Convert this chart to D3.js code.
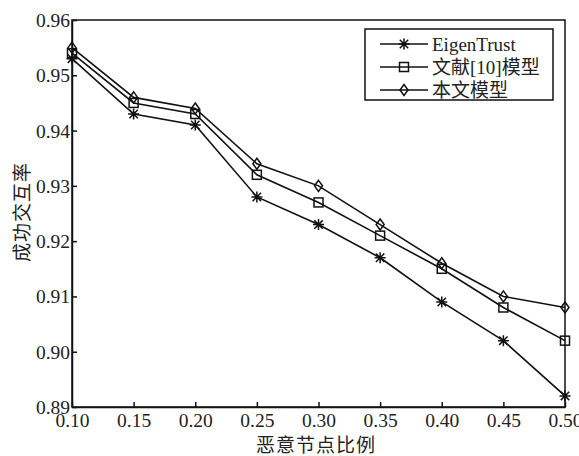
<!DOCTYPE html>
<html>
<head>
<meta charset="utf-8">
<script src="https://cdn.jsdelivr.net/npm/d3@7"></script>
<style>
  body { margin: 0; background: #fff; }
  text { font-family: "Liberation Serif", "Noto Sans CJK SC", serif; fill: #222; }
</style>
</head>
<body>
<div id="chart"></div>
<script>
var xValues = [0.10, 0.15, 0.20, 0.25, 0.30, 0.35, 0.40, 0.45, 0.50];
var eigenTrust = [0.953, 0.943, 0.941, 0.928, 0.923, 0.917, 0.909, 0.902, 0.892];
var ref10Model = [0.954, 0.945, 0.943, 0.932, 0.927, 0.921, 0.915, 0.908, 0.902];
var ourModel = [0.955, 0.946, 0.944, 0.934, 0.930, 0.923, 0.916, 0.910, 0.908];
var seriesNames = ['EigenTrust', '文献[10]模型', '本文模型'];
var xTicks = [0.10, 0.15, 0.20, 0.25, 0.30, 0.35, 0.40, 0.45, 0.50];
var yTicks = [0.89, 0.90, 0.91, 0.92, 0.93, 0.94, 0.95, 0.96];

var width = 579, height = 456,
    pLeft = 72, pTop = 20, pRight = 565, pBottom = 407;

var svg = d3.select('#chart').append('svg')
    .attr('width', width)
    .attr('height', height);

var xScale = d3.scaleLinear().domain([0.10, 0.50]).range([pLeft, pRight]),
    yScale = d3.scaleLinear().domain([0.89, 0.96]).range([pBottom, pTop]);

var xAxis = d3.axisBottom(xScale)
        .tickValues(xTicks)
        .tickFormat(d3.format('.2f'))
        .tickSizeInner(-5)
        .tickSizeOuter(0),
    yAxis = d3.axisLeft(yScale)
        .tickValues(yTicks)
        .tickFormat(d3.format('.2f'))
        .tickSizeInner(-5)
        .tickSizeOuter(0);

// frame
svg.append('rect')
    .attr('x', pLeft).attr('y', pTop)
    .attr('width', pRight - pLeft).attr('height', pBottom - pTop)
    .attr('fill', 'none').attr('stroke', '#111').attr('stroke-width', 1.5);

var xx = svg.append('g')
    .attr('transform', 'translate(0,' + pBottom + ')')
    .call(xAxis);
var yy = svg.append('g')
    .attr('transform', 'translate(' + pLeft + ',0)')
    .call(yAxis);

[xx, yy].forEach(function(ax) {
    ax.select('.domain').attr('stroke', '#111').attr('stroke-width', 1.5);
    ax.selectAll('.tick line').attr('stroke', '#111').attr('stroke-width', 1.5);
    ax.selectAll('.tick text')
        .style('font-size', '19.5px')
        .style('font-family', '"Liberation Serif", serif')
        .attr('fill', '#333');
});
xx.selectAll('.tick text').attr('y', 6).attr('dy', '0.71em');
yy.selectAll('.tick text').attr('x', -2).attr('dy', '0.33em');

// axis titles
svg.append('text')
    .attr('x', 316)
    .attr('y', 443)
    .attr('text-anchor', 'middle')
    .attr('dominant-baseline', 'central')
    .style('font-size', '19px')
    .style('letter-spacing', '1px')
    .style('font-family', '"Noto Sans CJK SC", sans-serif')
    .text('恶意节点比例');

svg.append('text')
    .attr('transform', 'translate(20,212) rotate(-90)')
    .attr('text-anchor', 'middle')
    .attr('dominant-baseline', 'central')
    .style('font-size', '19px')
    .style('letter-spacing', '1px')
    .style('font-family', '"Noto Sans CJK SC", sans-serif')
    .text('成功交互率');

// markers
function drawMarker(g, type) {
    if (type === 0) {
        g.append('path')
            .attr('d', 'M-5.5,0H5.5M0,-5.5V5.5M-4.2,-4.2L4.2,4.2M-4.2,4.2L4.2,-4.2')
            .attr('stroke', '#111').attr('stroke-width', 1.5).attr('fill', 'none');
    } else if (type === 1) {
        g.append('rect')
            .attr('x', -4.5).attr('y', -4.5).attr('width', 9).attr('height', 9)
            .attr('stroke', '#111').attr('stroke-width', 1.5).attr('fill', 'none');
    } else {
        g.append('path')
            .attr('d', 'M0,-5.5L4,0L0,5.5L-4,0Z')
            .attr('stroke', '#111').attr('stroke-width', 1.5).attr('fill', 'none');
    }
}

var series = [eigenTrust, ref10Model, ourModel];
var line = d3.line()
    .x(function(d, i) { return xScale(xValues[i]); })
    .y(function(d) { return yScale(d); });

series.forEach(function(values, s) {
    svg.append('path')
        .datum(values)
        .attr('d', line)
        .attr('fill', 'none')
        .attr('stroke', '#111')
        .attr('stroke-width', 1.6);
    values.forEach(function(v, i) {
        var g = svg.append('g')
            .attr('transform', 'translate(' + xScale(xValues[i]) + ',' + yScale(v) + ')');
        drawMarker(g, s);
    });
});

// legend
var legend = svg.append('g');
legend.append('rect')
    .attr('x', 365).attr('y', 29).attr('width', 188).attr('height', 71)
    .attr('fill', '#fff').attr('stroke', '#111').attr('stroke-width', 1.5);

seriesNames.forEach(function(name, i) {
    var ly = 44 + i * 23;
    legend.append('line')
        .attr('x1', 380).attr('x2', 428).attr('y1', ly).attr('y2', ly)
        .attr('stroke', '#111').attr('stroke-width', 1.6);
    drawMarker(legend.append('g').attr('transform', 'translate(404,' + ly + ')'), i);
    legend.append('text')
        .attr('x', 432).attr('y', ly)
        .attr('dy', '0.35em')
        .style('font-size', '19px')
        .text(name);
});
</script>
</body>
</html>
